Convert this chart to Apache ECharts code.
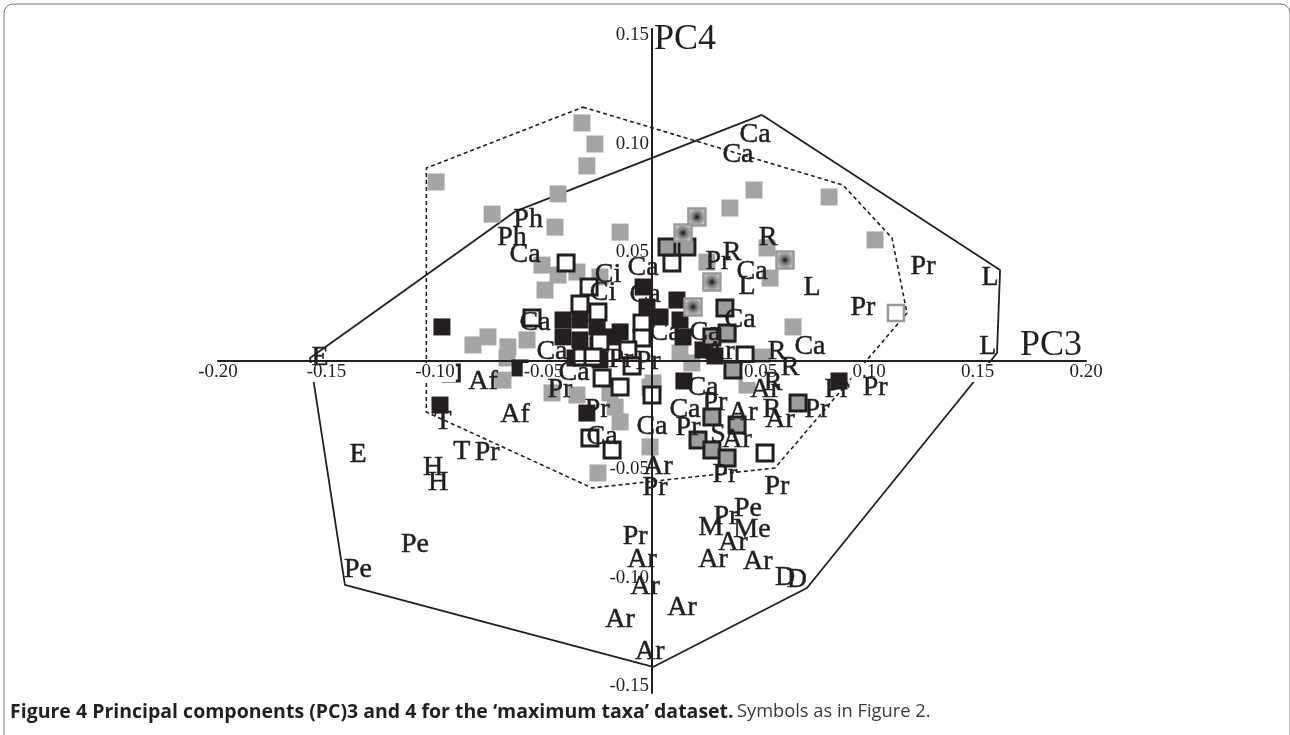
<!DOCTYPE html>
<html>
<head>
<meta charset="utf-8">
<script src="https://cdn.jsdelivr.net/npm/echarts@6/dist/echarts.min.js"></script>
<style>
html,body{margin:0;padding:0;background:#fff;}
#chart{width:1290px;height:735px;}
</style>
</head>
<body>
<div id="chart"></div>
<script>
// ---- tick labels ----
const xTickValues = [-0.2, -0.15, -0.1, -0.05, 0.05, 0.1, 0.15, 0.2];
const yTickValues = [-0.15, -0.1, -0.05, 0.05, 0.1, 0.15];

// ---- convex hulls ----
const solidHull = [[0.0507,0.1134],[0.1604,0.0419],[0.1590,0.0037],[0.0714,-0.1046],[0.0005,-0.1410],[-0.1415,-0.1032],[-0.1576,0.0014],[-0.0627,0.0691],[0.0507,0.1134]];
const dashedHull = [[-0.0318,0.1170],[0.0880,0.0811],[0.1106,0.0567],[0.1175,0.0221],[0.0567,-0.0493],[-0.0276,-0.0585],[-0.1040,-0.0235],[-0.1040,0.0889],[-0.0318,0.1170]];

// ---- symbol groups ----
const grayPts = [[-0.0323,0.1097],[-0.0263,0.1000],[-0.0300,0.0899],[-0.0995,0.0825],[-0.0433,0.0770],[-0.0737,0.0677],[-0.0447,0.0617],[-0.0147,0.0594],[-0.0507,0.0442],[-0.0433,0.0396],[-0.0493,0.0327],[-0.0346,0.0410],[-0.0240,0.0387],[-0.0825,0.0074],[-0.0756,0.0111],[-0.0664,0.0065],[-0.0576,0.0097],[-0.0668,0.0014],[-0.0687,-0.0088],[-0.0461,-0.0147],[-0.0346,-0.0157],[-0.0170,-0.0212],[-0.0147,-0.0281],[-0.0194,-0.0147],[-0.0009,-0.0396],[-0.0249,-0.0516],[0.0005,-0.0101],[0.0359,0.0705],[0.0470,0.0788],[0.0816,0.0756],[0.1028,0.0558],[0.0253,0.0456],[0.0530,0.0521],[0.0544,0.0382],[0.0650,0.0157],[0.0129,0.0037],[0.0184,-0.0009],[0.0507,0.0018],[0.0438,-0.0111],[-0.0009,-0.0120],[0.0350,0.0120]];
const blackPts = [[-0.0968,0.0157],[-0.0977,-0.0203],[-0.0608,-0.0032],[-0.0300,-0.0240],[0.0147,-0.0092],[0.0862,-0.0092],[-0.0410,0.0189],[-0.0332,0.0189],[-0.0253,0.0157],[-0.0410,0.0111],[-0.0332,0.0097],[-0.0180,0.0111],[-0.0041,0.0341],[-0.0023,0.0249],[0.0115,0.0281],[0.0037,0.0203],[0.0129,0.0189],[0.0143,0.0111],[0.0235,0.0051],[-0.0240,0.0005],[-0.0147,0.0134],[-0.0355,0.0014],[-0.0249,0.0074],[0.0290,0.0023]];
const whitePts = [[-0.0396,0.0452],[-0.0290,0.0341],[-0.0332,0.0263],[-0.0249,0.0226],[-0.0553,0.0198],[-0.0240,0.0088],[-0.0046,0.0175],[-0.0046,0.0106],[-0.0111,0.0051],[-0.0323,0.0018],[-0.0272,0.0018],[-0.0230,-0.0078],[-0.0147,-0.0120],[0.0000,-0.0157],[-0.0286,-0.0355],[-0.0184,-0.0410],[0.0092,0.0452],[0.0429,0.0028],[0.0521,-0.0424],[-0.0092,-0.0023],[-0.0925,-0.0055]];
const grayOutlinedPts = [[0.0069,0.0525],[0.0161,0.0525],[0.0336,0.0244],[0.0346,0.0129],[0.0276,0.0111],[0.0373,-0.0041],[0.0673,-0.0194],[0.0276,-0.0258],[0.0392,-0.0295],[0.0212,-0.0364],[0.0276,-0.0410],[0.0346,-0.0447]];
const shadedPts = [[0.0207,0.0664],[0.0143,0.0590],[0.0276,0.0364],[0.0613,0.0465],[0.0189,0.0249]];
const openGrayPts = [[0.1124,0.0221]];

// ---- taxon labels: [name, PC3, PC4] ----
const taxa = [
['Ca',0.0475,0.1041],['Ca',0.0396,0.0949],['Ph',-0.0571,0.0650],['Ph',-0.0645,0.0567],['Ca',-0.0585,0.0488],
['Ci',-0.0203,0.0396],['Ca',-0.0041,0.0429],['Ci',-0.0226,0.0313],['Ca',-0.0032,0.0304],['Ca',-0.0539,0.0175],
['Ca',-0.0461,0.0041],['Pr',-0.0143,0.0005],['Pr',-0.0018,-0.0005],['Ca',-0.0359,-0.0055],['Ca',0.0244,0.0129],
['Ca',0.0060,0.0129],['Pr',0.0304,0.0456],['R',0.0369,0.0498],['Ca',0.0461,0.0410],['L',0.0438,0.0341],
['R',0.0535,0.0567],['L',0.0737,0.0336],['Ca',0.0406,0.0189],['Ar',0.0313,0.0041],['R',0.0576,0.0041],
['R',0.0636,-0.0032],['Ca',0.0728,0.0065],['Pr',0.1249,0.0433],['L',0.1558,0.0382],['Pr',0.0972,0.0244],
['L',0.1548,0.0065],['R',0.0558,-0.0101],['Ar',0.0521,-0.0134],['Pr',0.0852,-0.0134],['Pr',0.0760,-0.0226],
['Pr',0.1028,-0.0124],['Ar',0.0419,-0.0240],['R',0.0553,-0.0226],['Ar',0.0590,-0.0272],['Ca',0.0152,-0.0226],
['Pr',0.0290,-0.0194],['Ca',0.0000,-0.0304],['Pr',0.0166,-0.0309],['S',0.0304,-0.0341],['Ar',0.0392,-0.0364],
['Ca',0.0235,-0.0124],['Ar',0.0028,-0.0488],['Pr',0.0014,-0.0585],['Pr',0.0336,-0.0525],['Pr',0.0576,-0.0581],
['Pe',0.0442,-0.0682],['Pr',0.0341,-0.0719],['M',0.0272,-0.0770],['Me',0.0461,-0.0779],['Ar',0.0373,-0.0839],
['Ar',0.0281,-0.0917],['Ar',0.0488,-0.0926],['D',0.0613,-0.1000],['D',0.0668,-0.1009],['Ar',0.0138,-0.1138],
['Ar',-0.0010,-0.1341],['Pr',-0.0078,-0.0811],['Ar',-0.0046,-0.0917],['Ar',-0.0032,-0.1041],['Ar',-0.0147,-0.1194],
['Pe',-0.1092,-0.0848],['Pe',-0.1355,-0.0963],['Af',-0.0779,-0.0097],['Af',-0.0631,-0.0249],['T',-0.0963,-0.0281],
['T',-0.0876,-0.0419],['Pr',-0.0760,-0.0424],['E',-0.1355,-0.0433],['H',-0.1009,-0.0493],['H',-0.0986,-0.0562],
['Pr',-0.0424,-0.0134],['Pr',-0.0253,-0.0226],['Ca',-0.0230,-0.0350],['E',-0.1530,0.0014]
];

const INK = '#231f20';
const serif = 'Liberation Serif';

function sq(name, data, size, style, z) {
  return { name, type: 'scatter', data, symbol: 'rect', symbolSize: size,
           itemStyle: Object.assign({ opacity: 1 }, style), z: z,
           silent: true, emphasis: { disabled: true } };
}
const tickLabelStyle = { show: true, formatter: p => p.value[2], fontFamily: serif, fontSize: 19, color: INK,
                         backgroundColor: '#fff', padding: [0, 1, 0, 1] };

const chart = echarts.init(document.getElementById('chart'), null, { renderer: 'canvas' });
chart.setOption({
  animation: false,
  backgroundColor: '#fff',
  grid: { left: 218, right: 204, top: 29, bottom: 42, containLabel: false },
  xAxis: {
    type: 'value', min: -0.2, max: 0.2, z: 3,
    name: 'PC3', nameLocation: 'end', nameGap: -4,
    nameTextStyle: { fontFamily: serif, fontSize: 36, color: INK, align: 'right', verticalAlign: 'bottom', lineHeight: 30 },
    axisLine: { onZero: true, lineStyle: { color: INK, width: 2.2 } },
    axisTick: { show: false },
    splitLine: { show: false },
    axisLabel: { show: false }
  },
  yAxis: {
    type: 'value', min: -0.153, max: 0.153, z: 3,
    name: 'PC4', nameLocation: 'end', nameGap: -29,
    nameTextStyle: { fontFamily: serif, fontSize: 36, color: INK, align: 'left', verticalAlign: 'bottom', padding: [0, 0, 0, 2] },
    axisLine: { onZero: true, lineStyle: { color: INK, width: 2 } },
    axisTick: { show: false },
    splitLine: { show: false },
    axisLabel: { show: false }
  },
  series: [
    { name: 'hull solid', type: 'line', data: solidHull, showSymbol: false, symbol: 'none', z: 2, silent: true,
      lineStyle: { color: INK, width: 1.8 } },
    { name: 'hull dashed', type: 'line', data: dashedHull, showSymbol: false, symbol: 'none', z: 2, silent: true,
      lineStyle: { color: INK, width: 1.6, type: [4, 3] } },
    sq('gray', grayPts, 17, { color: '#a5a5a8' }, 2),
    sq('black', blackPts, 17, { color: INK }, 2),
    sq('white', whitePts, 16, { color: '#fff', borderColor: INK, borderWidth: 3 }, 2),
    sq('grayOutlined', grayOutlinedPts, 16, { color: '#9d9d9f', borderColor: INK, borderWidth: 3 }, 2),
    sq('shaded', shadedPts, 17, { color: { type: 'radial', x: 0.5, y: 0.5, r: 0.55,
        colorStops: [{ offset: 0, color: '#111' }, { offset: 0.35, color: '#777' }, { offset: 1, color: '#e0e0e0' }] },
        borderColor: '#9a9a9a', borderWidth: 2.5 }, 2),
    sq('openGray', openGrayPts, 16, { color: '#fff', borderColor: '#9a9a9a', borderWidth: 2.5 }, 2),
    { name: 'x ticks', type: 'scatter', symbolSize: 0, z: 4, silent: true, itemStyle: { opacity: 1 },
      data: xTickValues.map(v => [v, 0, v.toFixed(2)]),
      label: Object.assign({ position: 'bottom', distance: 2 }, tickLabelStyle) },
    { name: 'y ticks', type: 'scatter', symbolSize: 0, z: 4, silent: true, itemStyle: { opacity: 1 },
      data: yTickValues.map(v => [0, v, v.toFixed(2)]),
      label: Object.assign({ position: 'left', distance: 2 }, tickLabelStyle) },
    { name: 'taxa', type: 'scatter', symbolSize: 0, z: 5, silent: true, itemStyle: { opacity: 1 },
      data: taxa.map(t => ({ name: t[0], value: [t[1], t[2]] })),
      label: { show: true, position: 'inside', formatter: '{b}', fontFamily: serif, fontSize: 28, color: INK,
               textBorderColor: INK, textBorderWidth: 0.5 } }
  ],
  graphic: [
    { type: 'rect', left: 1.5, top: 1.5, silent: true, z: 0,
      shape: { width: 1286, height: 780, r: 9 }, style: { fill: 'none', stroke: '#777', lineWidth: 1 } },
    { type: 'text', left: 10, top: 702, silent: true, z: 10,
      style: { text: '{b|Figure 4 Principal components (PC)3 and 4 for the \u2018maximum taxa\u2019 dataset.} {n|Symbols as in Figure 2.}',
        rich: { b: { fontFamily: 'Open Sans', fontWeight: 'bold', fontSize: 19.5, fill: INK },
                n: { fontFamily: 'Open Sans', fontSize: 18.3, fill: '#3a3a3a' } } } }
  ]
});
</script>
</body>
</html>
